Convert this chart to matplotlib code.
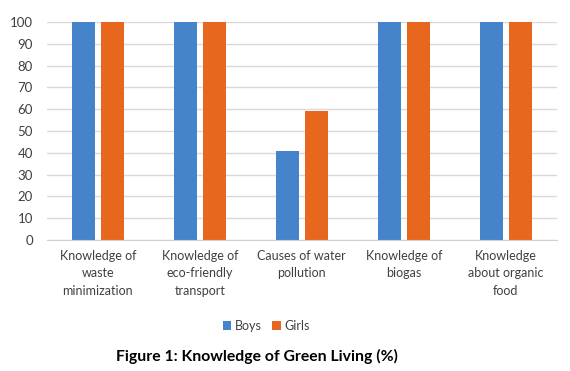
import matplotlib
matplotlib.use("Agg")
import matplotlib.pyplot as plt
import numpy as np

categories = ["Knowledge of\nwaste\nminimization", "Knowledge of\neco-friendly\ntransport",
              "Causes of water\npollution", "Knowledge of\nbiogas", "Knowledge\nabout organic\nfood"]
boys = [100, 100, 41, 100, 100]
girls = [100, 100, 59, 100, 100]
yticks = [0, 10, 20, 30, 40, 50, 60, 70, 80, 90, 100]

plt.rcParams['font.family'] = ['Lato', 'DejaVu Sans']

fig = plt.figure(figsize=(5.7, 3.71), dpi=100)
ax = fig.add_axes([0.082, 0.353, 0.895, 0.588])

x = np.arange(len(categories))
w = 0.225
gap = 0.06
blue = "#4583CB"
orange = "#E8671F"
ax.bar(x - (w + gap) / 2, boys, w, color=blue, label="Boys", zorder=3)
ax.bar(x + (w + gap) / 2, girls, w, color=orange, label="Girls", zorder=3)

ax.set_xlim(-0.5, len(categories) - 0.5)
ax.set_ylim(0, 100)
ax.set_yticks(yticks)
ax.set_yticklabels([str(t) for t in yticks], fontsize=9.5, color="#404040")
ax.set_xticks(x)
ax.set_xticklabels(categories, fontsize=9, color="#404040", linespacing=1.55)
ax.tick_params(axis='y', length=0, pad=10)
ax.tick_params(axis='x', length=0, pad=7)
ax.yaxis.grid(True, color="#D9D9D9", linewidth=1, zorder=0)
for s in ["top", "right", "left"]:
    ax.spines[s].set_visible(False)
ax.spines["bottom"].set_color("#D0D0D0")
ax.spines["bottom"].set_zorder(4)

fig.legend(loc="center", bbox_to_anchor=(0.467, 0.121), ncol=2, frameon=False,
           fontsize=9, handlelength=0.7, handleheight=0.7, handletextpad=0.3,
           columnspacing=0.8, labelcolor="#404040")
fig.text(0.451, 0.038, "Figure 1: Knowledge of Green Living (%)", ha="center", va="center",
         fontsize=11.3, fontweight="bold", color="black")

fig.savefig("out.png", dpi=100)
